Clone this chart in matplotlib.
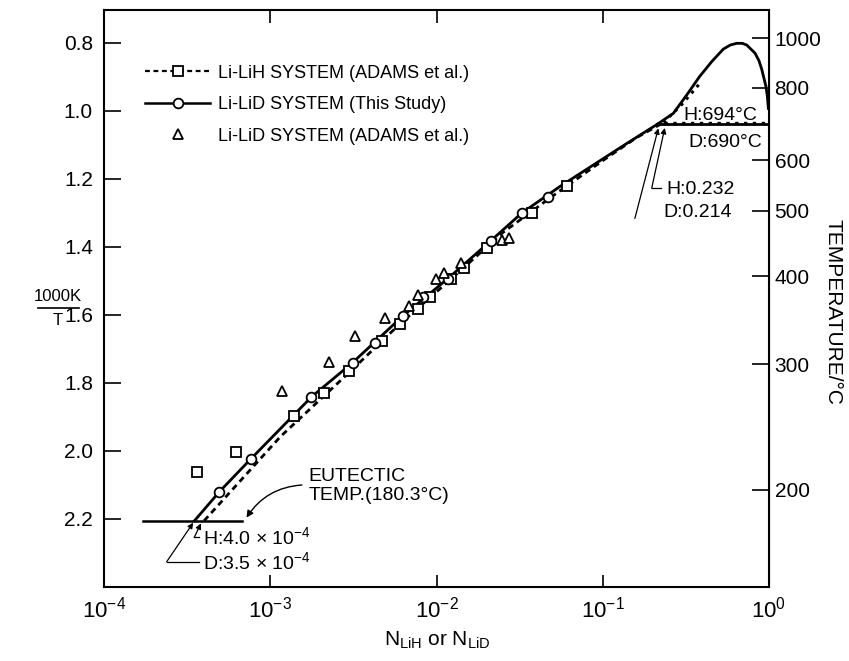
import matplotlib.pyplot as plt
from matplotlib.lines import Line2D
from matplotlib.ticker import FixedLocator, NullLocator, LogLocator

plt.rcParams['font.family'] = ['Liberation Sans', 'DejaVu Sans']
plt.rcParams['mathtext.fontset'] = 'custom'
plt.rcParams['mathtext.rm'] = 'Liberation Sans'
plt.rcParams['mathtext.default'] = 'regular'

# Li-LiD liquidus, this study (line + measured points)
lid_curve_x = [3.5e-4, 4.94e-4, 7.62e-4, 1.77e-3, 3.13e-3, 6.27e-3, 1.17e-2,
               2.13e-2, 3.26e-2, 5.53e-2, 0.14, 0.214]
lid_curve_y = [2.2053, 2.120, 2.024, 1.841, 1.740, 1.603, 1.493,
               1.381, 1.300, 1.222, 1.095, 1.0383]
lid_x = [4.94e-4, 7.62e-4, 1.77e-3, 3.13e-3, 4.27e-3, 6.27e-3, 8.34e-3,
         1.17e-2, 2.13e-2, 3.26e-2, 4.70e-2]
lid_y = [2.120, 2.024, 1.841, 1.740, 1.681, 1.603, 1.546,
         1.493, 1.381, 1.300, 1.254]

# miscibility gap dome above the monotectic
dome_x = [0.214, 0.2657, 0.320, 0.382, 0.452, 0.531, 0.585, 0.639, 0.69,
          0.735, 0.824, 0.87, 0.904, 0.959, 0.978, 0.991]
dome_y = [1.0383, 1.007, 0.953, 0.899, 0.855, 0.818, 0.806, 0.801, 0.801,
          0.806, 0.830, 0.852, 0.877, 0.928, 0.958, 0.992]

# Li-LiH liquidus (Adams et al.)
lih_curve_x = [4.0e-4, 1.15e-3, 3.0e-3, 6.0e-3, 1.2e-2, 2.5e-2, 5.0e-2,
               0.1, 0.16, 0.232]
lih_curve_y = [2.2053, 1.958, 1.768, 1.627, 1.498, 1.358, 1.250,
               1.146, 1.078, 1.034]
lih_dome_x = [0.232, 0.30, 0.385]
lih_dome_y = [1.034, 0.980, 0.918]
lih_x = [3.64e-4, 6.22e-4, 1.38e-3, 2.10e-3, 2.99e-3, 4.68e-3, 6.03e-3,
         7.78e-3, 9.15e-3, 1.22e-2, 1.47e-2, 2.00e-2, 3.74e-2, 6.12e-2]
lih_y = [2.063, 2.002, 1.896, 1.829, 1.765, 1.676, 1.626,
         1.583, 1.546, 1.494, 1.463, 1.404, 1.301, 1.220]

# Li-LiD points (Adams et al.)
adams_lid_x = [1.17e-3, 2.26e-3, 3.24e-3, 4.90e-3, 6.85e-3, 7.78e-3, 9.93e-3,
               1.11e-2, 1.40e-2, 2.47e-2, 2.74e-2]
adams_lid_y = [1.823, 1.737, 1.663, 1.608, 1.574, 1.541, 1.495,
               1.476, 1.448, 1.379, 1.374]

# invariant temperatures, 1000K/T
eutectic_y = 1000 / (180.3 + 273.15)
eutectic_x = [1.71e-4, 6.73e-4]
mono_h_y = 1000 / (694 + 273.15)
mono_d_y = 1000 / (690 + 273.15)

temp_ticks = [200, 300, 400, 500, 600, 800, 1000]

fig = plt.figure(figsize=(8.49, 6.61), dpi=100)
ax = fig.add_axes([104 / 849, 1 - 587 / 661, 665 / 849, 577 / 661])

mk = dict(mfc='white', mec='black', mew=1.3, color='black')

ax.plot(lid_curve_x, lid_curve_y, '-', lw=2.0, color='black')
ax.plot(dome_x, dome_y, '-', lw=2.0, color='black')
ax.plot([0.214, 1.0], [mono_d_y, mono_d_y], '-', lw=2.0, color='black')
ax.plot(lih_curve_x, lih_curve_y, '--', lw=2.0, color='black', dashes=(2.2, 1.6))
ax.plot(lih_dome_x, lih_dome_y, ':', lw=2.2, color='black')
ax.plot([0.232, 1.0], [mono_h_y, mono_h_y], ':', lw=2.4, color='black')
ax.plot(eutectic_x, [eutectic_y, eutectic_y], '-', lw=1.8, color='black')

ax.plot(lih_x, lih_y, 's', ms=7, ls='none', **mk)
ax.plot(lid_x, lid_y, 'o', ms=7, ls='none', **mk)
ax.plot(adams_lid_x, adams_lid_y, '^', ms=6.5, ls='none', **mk)

ax.set_xscale('log')
ax.set_xlim(1e-4, 1.0)
ax.set_ylim(2.40, 0.703)
ax.xaxis.set_major_locator(LogLocator(base=10, numticks=10))
ax.xaxis.set_minor_locator(NullLocator())
ax.yaxis.set_major_locator(FixedLocator([0.8, 1.0, 1.2, 1.4, 1.6, 1.8, 2.0, 2.2]))
ax.set_yticklabels(['0.8', '1.0', '1.2', '1.4', '1.6', '1.8', '2.0', '2.2'])
ax.tick_params(axis='x', which='major', direction='in', length=9, width=1.2,
               top=True, pad=7, labelsize=16)
ax.tick_params(axis='y', which='major', direction='in', length=12, width=1.2,
               left=True, right=False, pad=8, labelsize=15)
for s in ax.spines.values():
    s.set_linewidth(1.5)

sec = ax.secondary_yaxis('right', functions=(lambda y: 1000 / y - 273.15,
                                              lambda c: 1000 / (c + 273.15)))
sec.set_yticks(temp_ticks)
sec.set_yticklabels([str(t) for t in temp_ticks])
sec.yaxis.set_minor_locator(NullLocator())
sec.tick_params(direction='in', length=12, width=1.2, pad=4, labelsize=15)

# legend
handles = [
    Line2D([], [], ls='--', dashes=(2.2, 1.6), lw=1.6, marker='s', ms=7, **mk),
    Line2D([], [], ls='-', lw=1.8, marker='o', ms=7, **mk),
    Line2D([], [], ls='none', marker='^', ms=6.5, **mk),
]
labels = ['Li-LiH SYSTEM (ADAMS et al.)',
          'Li-LiD SYSTEM (This Study)',
          'Li-LiD SYSTEM (ADAMS et al.)']
ax.legend(handles, labels, loc='upper left', bbox_to_anchor=(0.062, 0.905),
          frameon=False, fontsize=13, numpoints=1, handlelength=3.6,
          handletextpad=0.45, labelspacing=0.8, borderpad=0, borderaxespad=0)

# eutectic annotation
ax.text(1.69e-3, 2.103, 'EUTECTIC\nTEMP.(180.3°C)', fontsize=14,
        ha='left', va='center', linespacing=1.1)
ax.annotate('', xy=(7.2e-4, 2.196), xytext=(1.55e-3, 2.10),
            arrowprops=dict(arrowstyle='-|>', connectionstyle='arc3,rad=0.25',
                            lw=1.0, color='black', shrinkA=0, shrinkB=0,
                            mutation_scale=10))
ax.text(3.94e-4, 2.253, r'H:4.0 $\times$ 10$^{-4}$', fontsize=14,
        ha='left', va='center')
ax.text(3.94e-4, 2.326, r'D:3.5 $\times$ 10$^{-4}$', fontsize=14,
        ha='left', va='center')
ax.plot([3.74e-4, 3.49e-4], [2.254, 2.254], '-', lw=0.9, color='black')
ax.plot([3.74e-4, 2.38e-4], [2.326, 2.326], '-', lw=0.9, color='black')
arw = dict(arrowstyle='-|>', lw=0.9, color='black', shrinkA=0, shrinkB=0,
           mutation_scale=8)
ax.annotate('', xy=(3.83e-4, 2.213), xytext=(3.49e-4, 2.254), arrowprops=arw)
ax.annotate('', xy=(3.44e-4, 2.211), xytext=(2.38e-4, 2.326), arrowprops=arw)

# monotectic annotation
ax.text(0.304, 1.012, 'H:694°C', fontsize=14, ha='left', va='center')
ax.text(0.326, 1.094, 'D:690°C', fontsize=14, ha='left', va='center')
ax.text(0.240, 1.232, 'H:0.232', fontsize=14, ha='left', va='center')
ax.text(0.233, 1.300, 'D:0.214', fontsize=14, ha='left', va='center')
ax.plot([0.224, 0.197], [1.227, 1.227], '-', lw=0.9, color='black')
ax.annotate('', xy=(0.236, 1.050), xytext=(0.197, 1.227), arrowprops=arw)
ax.annotate('', xy=(0.216, 1.051), xytext=(0.156, 1.316), arrowprops=arw)

# axis titles
fig.text(437 / 849, 1 - 640 / 661, r'N$_{LiH}$ or N$_{LiD}$', fontsize=15,
         ha='center', va='center')
fig.text(58 / 849, 1 - 297 / 661, '1000K', fontsize=12, ha='center', va='center')
fig.text(58 / 849, 1 - 320 / 661, 'T', fontsize=12, ha='center', va='center')
fig.add_artist(Line2D([38 / 849, 79 / 849], [1 - 308 / 661, 1 - 308 / 661],
                      lw=1.2, color='black'))
fig.text(833 / 849, 1 - 312 / 661, 'TEMPERATURE/°C', fontsize=15,
         rotation=270, ha='center', va='center')

fig.savefig('out.png', dpi=100)
